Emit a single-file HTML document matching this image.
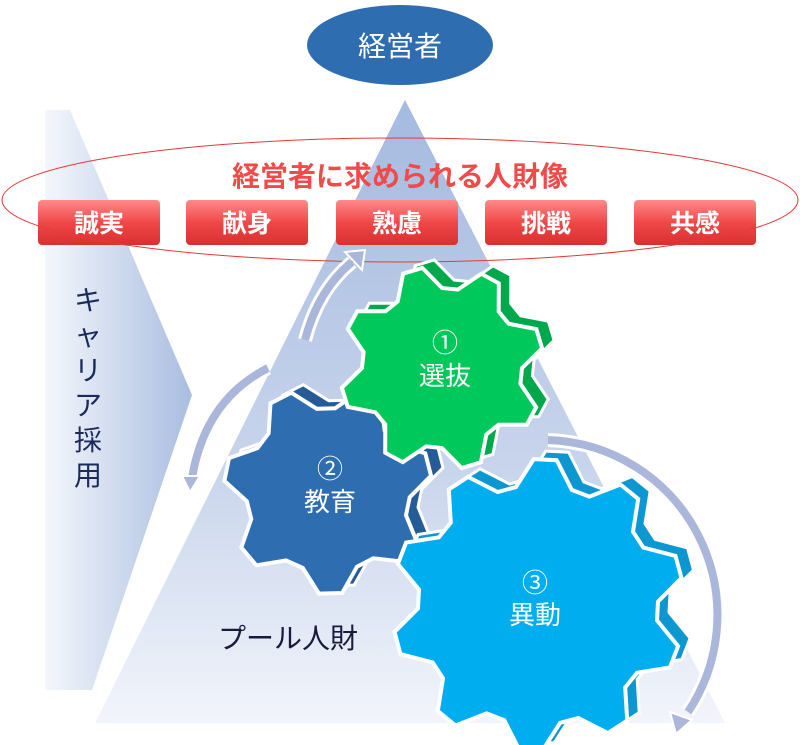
<!DOCTYPE html>
<html><head><meta charset="utf-8"><style>
body{margin:0;background:#fff;}
svg{display:block;font-family:"Liberation Sans","Noto Sans CJK JP",sans-serif;}
</style></head><body>
<svg id="s" width="800" height="745" viewBox="0 0 800 745" xmlns="http://www.w3.org/2000/svg">
<defs>
<linearGradient id="tri" x1="0" y1="0" x2="0" y2="1">
<stop offset="0" stop-color="#a4badf"/><stop offset="0.6" stop-color="#c9d5ec"/><stop offset="1" stop-color="#f2f5fb"/></linearGradient>
<linearGradient id="band" x1="0" y1="0" x2="1" y2="0">
<stop offset="0" stop-color="#f4f7fc"/><stop offset="1" stop-color="#a9bde0"/></linearGradient>
<linearGradient id="btn" x1="0" y1="0" x2="0" y2="1">
<stop offset="0" stop-color="#ff8a8a"/><stop offset="0.5" stop-color="#f04848"/><stop offset="1" stop-color="#d83030"/></linearGradient>
</defs>
<polygon points="405,100 95,723 725,723" fill="url(#tri)"/>
<polygon points="45,110 70,110 192,395 92,690 45,690" fill="url(#band)"/>
<ellipse cx="400" cy="45" rx="93" ry="40" fill="#2e6db0"/>
<text x="400" y="56" font-size="28" fill="#fff" text-anchor="middle">経営者</text>
<text x="400" y="186" font-size="28" font-weight="bold" fill="#f04a4a" text-anchor="middle">経営者に求められる人財像</text>
<g font-size="25" font-weight="bold" fill="#fff" text-anchor="middle">
<rect x="38" y="200" width="122" height="45" rx="4" fill="url(#btn)"/><text x="99" y="232">誠実</text>
<rect x="186" y="200" width="122" height="45" rx="4" fill="url(#btn)"/><text x="247" y="232">献身</text>
<rect x="336" y="200" width="122" height="45" rx="4" fill="url(#btn)"/><text x="397" y="232">熟慮</text>
<rect x="485" y="200" width="122" height="45" rx="4" fill="url(#btn)"/><text x="546" y="232">挑戦</text>
<rect x="634" y="200" width="122" height="45" rx="4" fill="url(#btn)"/><text x="695" y="232">共感</text>
</g>
<ellipse cx="400" cy="200" rx="398" ry="62" fill="none" stroke="#e83838" stroke-width="1"/>
<g fill="none" stroke-linecap="butt">
<path d="M305,340 Q318,290 352,262" stroke="#fff" stroke-width="14"/>
<path d="M305,340 Q318,290 352,262" stroke="#aab6da" stroke-width="8"/>
<path d="M268,368 Q205,400 192,478" stroke="#fff" stroke-width="14"/>
<path d="M268,368 Q205,400 192,478" stroke="#aab6da" stroke-width="8"/>
<path d="M548,440 A175,175 0 0 1 688,712" stroke="#fff" stroke-width="14"/>
<path d="M548,440 A175,175 0 0 1 688,712" stroke="#aab6da" stroke-width="8"/>
</g>
<polygon points="345,252 365,250 362,270" fill="#aab6da" stroke="#fff" stroke-width="2"/>
<polygon points="182,476 200,476 190,492" fill="#aab6da" stroke="#fff" stroke-width="2"/>
<polygon points="670,712 692,720 676,734" fill="#aab6da" stroke="#fff" stroke-width="2"/>
<g id="gears"></g>
<g fill="#fff" text-anchor="middle" font-size="26">
<text x="445" y="352">①</text><text x="445" y="385">選抜</text>
<text x="330" y="478">②</text><text x="330" y="511">教育</text>
<text x="535" y="592">③</text><text x="535" y="624">異動</text>
</g>
<text x="88" y="310" font-size="28" fill="#1a2a5a" text-anchor="middle">キ</text>
<text x="88" y="345" font-size="28" fill="#1a2a5a" text-anchor="middle">ャ</text>
<text x="88" y="380" font-size="28" fill="#1a2a5a" text-anchor="middle">リ</text>
<text x="88" y="415" font-size="28" fill="#1a2a5a" text-anchor="middle">ア</text>
<text x="88" y="450" font-size="28" fill="#1a2a5a" text-anchor="middle">採</text>
<text x="88" y="485" font-size="28" fill="#1a2a5a" text-anchor="middle">用</text>
<text x="218" y="648" font-size="28" fill="#1a1a3a">プール人財</text>
</svg>
<script>
function gear(cx,cy,r,teeth,depth,rot,fill,side){
 var pts=[],n=teeth*4;
 for(var i=0;i<n;i++){
  var a=rot+(i/n)*Math.PI*2+(Math.PI*2/n)*0.5;
  var k=i%4; var rr=(k==1||k==2)?r+depth:r;
  pts.push([cx+rr*Math.cos(a),cy+rr*Math.sin(a)]);
 }
 var d='M'+pts.map(p=>p[0].toFixed(1)+','+p[1].toFixed(1)).join('L')+'Z';
 var g=document.getElementById('gears');
 var ns='http://www.w3.org/2000/svg';
 var b=document.createElementNS(ns,'path');b.setAttribute('d',d);b.setAttribute('fill',side);b.setAttribute('transform','translate(12,-8)');b.setAttribute('stroke','#fff');b.setAttribute('stroke-width','3');g.appendChild(b);
 var p=document.createElementNS(ns,'path');p.setAttribute('d',d);p.setAttribute('fill',fill);p.setAttribute('stroke','#fff');p.setAttribute('stroke-width','4');g.appendChild(p);
}
gear(328,490,82,7,22,0.2,'#2e6db0','#255c98');
gear(442,368,80,8,22,0.1,'#00c85a','#00a84c');
gear(538,605,120,10,26,0.05,'#00aeef','#0c97d0');
</script>
</body></html>
